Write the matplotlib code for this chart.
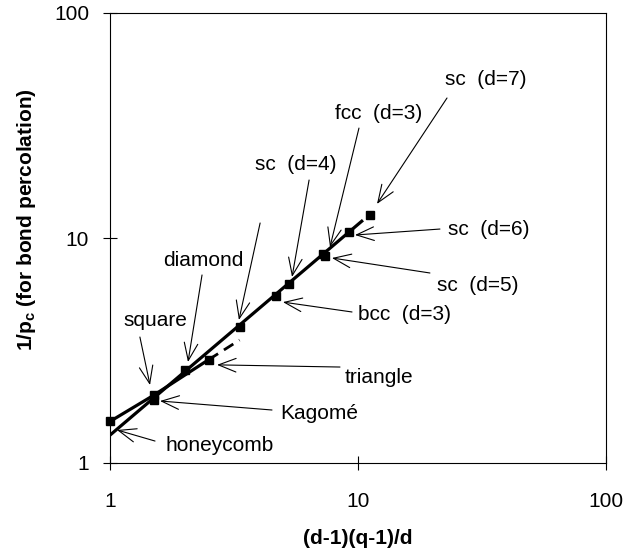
import matplotlib
matplotlib.use("Agg")
import matplotlib.pyplot as plt

plt.rcParams['font.family'] = ['Liberation Sans', 'DejaVu Sans']
plt.rcParams['mathtext.fontset'] = 'custom'
plt.rcParams['mathtext.rm'] = 'Liberation Sans'
plt.rcParams['mathtext.bf'] = 'Liberation Sans:bold'

# lattice data: x = (d-1)(q-1)/d, y = 1/pc (bond)
lattices = ["honeycomb", "square", "Kagomé", "diamond", "triangle", "sc (d=3)",
            "bcc (d=3)", "sc (d=4)", "sc (d=5)", "fcc (d=3)", "sc (d=6)", "sc (d=7)"]
x_vals = [1.0, 1.5, 1.5, 2.0, 2.5, 3.33, 4.67, 5.25, 7.2, 7.33, 9.17, 11.14]
y_vals = [1.53, 2.0, 1.91, 2.58, 2.88, 4.02, 5.55, 6.25, 8.46, 8.33, 10.62, 12.7]

# fitted lines
line2d_x = [1.0, 1.5, 2.5]
line2d_y = [1.53, 2.0, 2.88]
line2d_ext_x = [2.5, 3.33]
line2d_ext_y = [2.88, 3.52]
line3d_x = [1.0, 10.47]
line3d_y = [1.33, 12.0]

x_ticks = [1, 10, 100]
y_ticks = [1, 10, 100]
tick_labels = ["1", "10", "100"]

# annotation layout: (label, text pos, arrow tail, arrow tip)
notes = [
    ("honeycomb", (1.667, 1.202), (1.519, 1.252), (1.067, 1.402)),
    ("Kagomé", (4.85, 1.668), (4.50, 1.72), (1.591, 1.886)),
    ("triangle", (8.86, 2.41), (8.46, 2.67), (2.70, 2.73)),
    ("bcc  (d=3)", (10.0, 4.55), (9.46, 4.69), (4.98, 5.19)),
    ("sc  (d=5)", (20.8, 6.18), (19.5, 6.99), (7.85, 8.15)),
    ("sc  (d=6)", (23.07, 10.96), (21.4, 10.96), (9.72, 10.31)),
    ("sc  (d=7)", (22.43, 50.4), (22.85, 41.9), (11.93, 14.17)),
    ("fcc  (d=3)", (8.08, 35.9), (10.09, 30.8), (7.71, 9.12)),
    ("sc  (d=4)", (3.84, 21.3), (6.35, 18.1), (5.42, 6.71)),
    ("", (4.03, 11.66), (4.03, 11.66), (3.31, 4.32)),
    ("diamond", (1.636, 7.98), (2.35, 6.85), (2.063, 2.81)),
    ("square", (1.128, 4.32), (1.32, 3.63), (1.45, 2.22)),
]

fig = plt.figure(figsize=(6.39, 5.54), dpi=100)
ax = fig.add_axes([110 / 639, 1 - 463 / 554, 496 / 639, 450 / 554])
ax.set_xscale('log')
ax.set_yscale('log')
ax.set_xlim(1, 100)
ax.set_ylim(1, 100)

ax.plot(line3d_x, line3d_y, color='black', lw=2.3, solid_capstyle='butt')
ax.plot(line2d_x, line2d_y, color='black', lw=2.3, solid_capstyle='butt')
ax.plot(line2d_ext_x, line2d_ext_y, color='black', lw=2.0, ls=(0, (4, 2.5)))
ax.plot(x_vals, y_vals, ls='none', marker='s', ms=5.5, color='black', clip_on=False, zorder=5)

arrow = dict(arrowstyle='->,head_length=0.9,head_width=0.35', lw=0.8, color='black',
             shrinkA=0, shrinkB=0, mutation_scale=14)
for label, tpos, tail, tip in notes:
    ax.annotate('', xy=tip, xytext=tail, arrowprops=arrow)
    if label:
        ax.text(tpos[0], tpos[1], label, fontsize=15, ha='left', va='center')

ax.set_xticks(x_ticks)
ax.set_xticklabels(tick_labels)
ax.set_yticks(y_ticks)
ax.set_yticklabels(tick_labels)
ax.minorticks_off()
ax.tick_params(axis='both', direction='inout', length=10, width=0.8, labelsize=15)
ax.tick_params(axis='x', pad=16)
ax.tick_params(axis='y', pad=10)
for spine in ax.spines.values():
    spine.set_linewidth(0.8)

fig.text(358 / 639, 1 - 538 / 554, '(d-1)(q-1)/d', fontsize=15, fontweight='bold',
         ha='center', va='center')
fig.text(27 / 639, 1 - 220 / 554, r'1/p$_\mathbf{c}$ (for bond percolation)', fontsize=15,
         fontweight='bold', rotation=90, ha='center', va='center')

fig.savefig('out.png', dpi=100)
